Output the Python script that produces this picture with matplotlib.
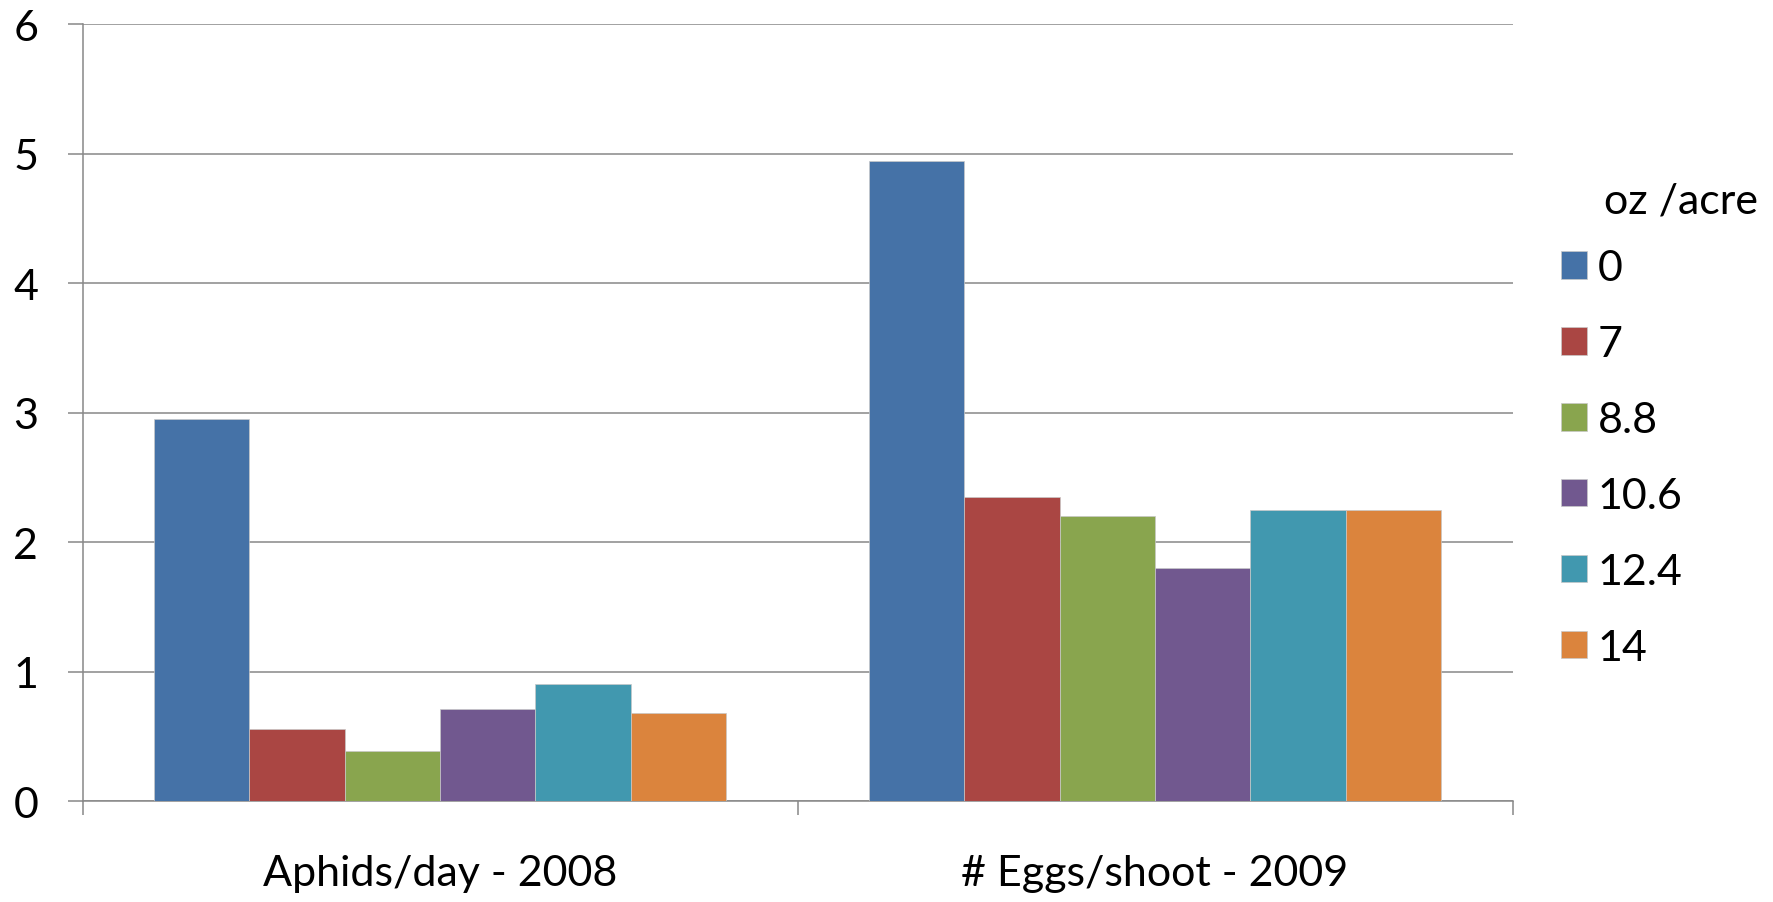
"""Bar chart: aphids/day and eggs/shoot by rate (oz/acre)."""

import matplotlib
matplotlib.use("Agg")
import matplotlib.pyplot as plt
import numpy as np

categories = ["Aphids/day - 2008", "# Eggs/shoot - 2009"]
rates = ["0", "7", "8.8", "10.6", "12.4", "14"]
values = {
    "0": [2.95, 4.94],
    "7": [0.56, 2.35],
    "8.8": [0.39, 2.20],
    "10.6": [0.71, 1.80],
    "12.4": [0.90, 2.25],
    "14": [0.68, 2.25],
}
colors = ["#4572A7", "#AA4643", "#89A54E", "#71588F", "#4198AF", "#DB843D"]

plt.rcParams["font.family"] = ["Lato", "DejaVu Sans"]
plt.rcParams["font.size"] = 31

fig = plt.figure(figsize=(17.74, 9.03), dpi=100)
ax = fig.add_axes([0.0466, 0.1118, 0.806, 0.8605])

x = np.arange(len(categories))
width = 0.8 / len(rates)
for i, r in enumerate(rates):
    offset = (i - (len(rates) - 1) / 2) * width
    ax.bar(x + offset, values[r], width, color=colors[i], label=r,
           edgecolor="#c8c8c8", linewidth=0.5, zorder=3)

ax.set_xlim(-0.5, 1.5)
ax.set_ylim(0, 6)
ax.set_yticks(range(7))

# category boundaries get the tick marks, labels sit in the middle
ax.set_xticks([-0.5, 0.5, 1.5])
ax.set_xticklabels([])
ax.set_xticks(x, minor=True)
ax.set_xticklabels(categories, minor=True)
ax.tick_params(axis="x", which="major", length=10, width=1.1, color="#888888", direction="out")
ax.tick_params(axis="x", which="minor", length=0, pad=38)
ax.tick_params(axis="y", length=11, width=1.1, color="#888888", pad=21)

ax.grid(axis="y", color="#888888", linewidth=1.1, zorder=0)
ax.set_axisbelow(True)
for s in ["top", "right"]:
    ax.spines[s].set_visible(False)
for s in ["left", "bottom"]:
    ax.spines[s].set_color("#888888")
    ax.spines[s].set_linewidth(1.1)

leg = ax.legend(loc="center left", bbox_to_anchor=(1561 / 1774, 1 - 459 / 903),
                bbox_transform=fig.transFigure, frameon=False, borderpad=0,
                borderaxespad=0, handlelength=0.6, handleheight=0.6,
                handletextpad=0.25, labelspacing=0.88)
fig.text(1604 / 1774, 1 - 201 / 903, "oz /acre", ha="left", va="center")

fig.savefig("out.png", dpi=100)
